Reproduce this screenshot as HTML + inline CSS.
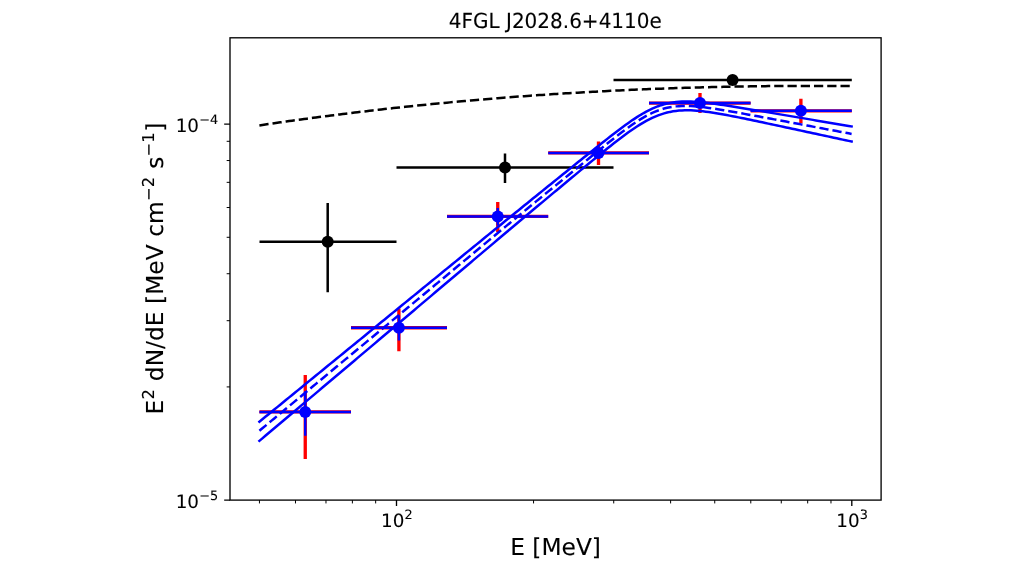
<!DOCTYPE html>
<html lang="en">
<head>
<meta charset="utf-8">
<title>4FGL J2028.6+4110e</title>
<style>
html,body{margin:0;padding:0;background:#ffffff;}
body{width:1024px;height:576px;overflow:hidden;}
svg{display:block;}
</style>
</head>
<body>
<svg width="1024" height="576" viewBox="0 0 1024 576">
<rect x="0" y="0" width="1024" height="576" fill="#ffffff"/>
<g>
<g fill="none" stroke-linecap="butt">
<polyline points="259.40,125.39 262.38,124.95 265.35,124.51 268.33,124.07 271.30,123.64 274.28,123.21 277.26,122.78 280.23,122.36 283.21,121.93 286.18,121.51 289.16,121.10 292.13,120.68 295.11,120.27 298.09,119.86 301.06,119.45 304.04,119.05 307.01,118.65 309.99,118.25 312.97,117.85 315.94,117.46 318.92,117.06 321.89,116.67 324.87,116.29 327.85,115.90 330.82,115.52 333.80,115.15 336.77,114.77 339.75,114.40 342.72,114.03 345.70,113.66 348.68,113.29 351.65,112.93 354.63,112.57 357.60,112.21 360.58,111.85 363.56,111.50 366.53,111.15 369.51,110.80 372.48,110.46 375.46,110.12 378.44,109.78 381.41,109.44 384.39,109.10 387.36,108.77 390.34,108.44 393.31,108.11 396.29,107.79 399.27,107.47 402.24,107.15 405.22,106.83 408.19,106.51 411.17,106.20 414.15,105.89 417.12,105.58 420.10,105.28 423.07,104.98 426.05,104.68 429.03,104.38 432.00,104.09 434.98,103.79 437.95,103.50 440.93,103.22 443.90,102.93 446.88,102.65 449.86,102.37 452.83,102.09 455.81,101.82 458.78,101.54 461.76,101.27 464.74,101.01 467.71,100.74 470.69,100.48 473.66,100.22 476.64,99.96 479.62,99.71 482.59,99.45 485.57,99.20 488.54,98.95 491.52,98.71 494.49,98.47 497.47,98.22 500.45,97.99 503.42,97.75 506.40,97.52 509.37,97.29 512.35,97.06 515.33,96.83 518.30,96.61 521.28,96.39 524.25,96.17 527.23,95.95 530.21,95.74 533.18,95.52 536.16,95.32 539.13,95.11 542.11,94.90 545.08,94.70 548.06,94.50 551.04,94.30 554.01,94.11 556.99,93.92 559.96,93.73 562.94,93.54 565.92,93.35 568.89,93.17 571.87,92.99 574.84,92.81 577.82,92.63 580.79,92.46 583.77,92.29 586.75,92.12 589.72,91.95 592.70,91.79 595.67,91.63 598.65,91.47 601.63,91.31 604.60,91.15 607.58,91.00 610.55,90.85 613.53,90.70 616.51,90.56 619.48,90.41 622.46,90.27 625.43,90.13 628.41,90.00 631.38,89.86 634.36,89.73 637.34,89.60 640.31,89.47 643.29,89.35 646.26,89.22 649.24,89.10 652.22,88.99 655.19,88.87 658.17,88.76 661.14,88.64 664.12,88.54 667.10,88.43 670.07,88.32 673.05,88.22 676.02,88.12 679.00,88.02 681.97,87.93 684.95,87.83 687.93,87.74 690.90,87.65 693.88,87.57 696.85,87.48 699.83,87.40 702.81,87.32 705.78,87.24 708.76,87.17 711.73,87.09 714.71,87.02 717.69,86.96 720.66,86.89 723.64,86.82 726.61,86.76 729.59,86.70 732.56,86.64 735.54,86.59 738.52,86.54 741.49,86.48 744.47,86.44 747.44,86.39 750.42,86.34 753.40,86.30 756.37,86.26 759.35,86.22 762.32,86.19 765.30,86.15 768.28,86.12 771.25,86.09 774.23,86.07 777.20,86.04 780.18,86.02 783.15,86.00 786.13,85.98 789.11,85.96 792.08,85.95 795.06,85.94 798.03,85.93 801.01,85.92 803.99,85.91 806.96,85.91 809.94,85.91 812.91,85.91 815.89,85.91 818.87,85.92 821.84,85.92 824.82,85.93 827.79,85.94 830.77,85.96 833.74,85.97 836.72,85.99 839.70,86.01 842.67,86.03 845.65,86.06 848.62,86.08 851.60,86.11" stroke="#000" stroke-width="2.5" stroke-dasharray="9.25 4"/>
<path d="M259.50 241.75H396.50M327.70 203.00V292.20" stroke="#000" stroke-width="2.5"/>
<path d="M396.50 167.45H613.50M505.00 153.50V182.90" stroke="#000" stroke-width="2.5"/>
<path d="M613.50 79.90H851.80M732.60 78.50V81.30" stroke="#000" stroke-width="2.5"/>
<circle cx="327.70" cy="241.75" r="6.0" fill="#000" stroke="none"/>
<circle cx="505.00" cy="167.45" r="6.0" fill="#000" stroke="none"/>
<circle cx="732.60" cy="79.90" r="6.0" fill="#000" stroke="none"/>
<path d="M259.40 411.90H351.00M305.25 375.00V459.10" stroke="#ff0000" stroke-width="3.33"/>
<path d="M351.00 327.75H447.00M398.90 308.50V351.25" stroke="#ff0000" stroke-width="3.33"/>
<path d="M447.00 216.45H548.20M497.75 201.90V232.00" stroke="#ff0000" stroke-width="3.33"/>
<path d="M548.20 152.90H649.00M598.50 141.40V165.10" stroke="#ff0000" stroke-width="3.33"/>
<path d="M649.00 103.10H750.60M700.00 93.10V113.10" stroke="#ff0000" stroke-width="3.33"/>
<path d="M750.60 110.85H851.80M800.90 98.75V123.20" stroke="#ff0000" stroke-width="3.33"/>
<path d="M259.40 411.90H351.00M305.25 391.25V435.70" stroke="#0000ff" stroke-width="2.5"/>
<path d="M351.00 327.75H447.00M398.90 315.60V340.40" stroke="#0000ff" stroke-width="2.5"/>
<path d="M447.00 216.45H548.20M497.75 208.10V225.60" stroke="#0000ff" stroke-width="2.5"/>
<path d="M548.20 152.90H649.00M598.50 148.00V158.00" stroke="#0000ff" stroke-width="2.5"/>
<path d="M649.00 103.10H750.60M700.00 99.50V107.00" stroke="#0000ff" stroke-width="2.5"/>
<path d="M750.60 110.85H851.80M800.90 106.50V115.00" stroke="#0000ff" stroke-width="2.5"/>
<circle cx="305.25" cy="411.90" r="6.0" fill="#0000ff" stroke="none"/>
<circle cx="398.90" cy="327.75" r="6.0" fill="#0000ff" stroke="none"/>
<circle cx="497.75" cy="216.45" r="6.0" fill="#0000ff" stroke="none"/>
<circle cx="598.50" cy="152.90" r="6.0" fill="#0000ff" stroke="none"/>
<circle cx="700.00" cy="103.10" r="6.0" fill="#0000ff" stroke="none"/>
<circle cx="800.90" cy="110.85" r="6.0" fill="#0000ff" stroke="none"/>
<polyline points="259.40,430.77 262.38,428.30 265.35,425.84 268.33,423.37 271.30,420.90 274.28,418.43 277.26,415.96 280.23,413.49 283.21,411.02 286.18,408.55 289.16,406.08 292.13,403.61 295.11,401.14 298.09,398.67 301.06,396.20 304.04,393.73 307.01,391.26 309.99,388.79 312.97,386.33 315.94,383.86 318.92,381.39 321.89,378.92 324.87,376.45 327.85,373.98 330.82,371.51 333.80,369.04 336.77,366.57 339.75,364.10 342.72,361.63 345.70,359.16 348.68,356.69 351.65,354.22 354.63,351.75 357.60,349.28 360.58,346.81 363.56,344.35 366.53,341.88 369.51,339.41 372.48,336.94 375.46,334.47 378.44,332.00 381.41,329.53 384.39,327.06 387.36,324.59 390.34,322.12 393.31,319.65 396.29,317.18 399.27,314.71 402.24,312.24 405.22,309.77 408.19,307.30 411.17,304.84 414.15,302.37 417.12,299.90 420.10,297.43 423.07,294.96 426.05,292.49 429.03,290.02 432.00,287.55 434.98,285.08 437.95,282.61 440.93,280.14 443.90,277.67 446.88,275.20 449.86,272.73 452.83,270.27 455.81,267.80 458.78,265.33 461.76,262.86 464.74,260.39 467.71,257.92 470.69,255.45 473.66,252.98 476.64,250.52 479.62,248.05 482.59,245.58 485.57,243.12 488.54,240.65 491.52,238.19 494.49,235.72 497.47,233.26 500.45,230.80 503.42,228.33 506.40,225.87 509.37,223.42 512.35,220.96 515.33,218.50 518.30,216.05 521.28,213.60 524.25,211.15 527.23,208.71 530.21,206.26 533.18,203.82 536.16,201.38 539.13,198.94 542.11,196.51 545.08,194.08 548.06,191.65 551.04,189.22 554.01,186.79 556.99,184.37 559.96,181.94 562.94,179.52 565.92,177.10 568.89,174.68 571.87,172.26 574.84,169.84 577.82,167.42 580.79,165.00 583.77,162.58 586.75,160.16 589.72,157.75 592.70,155.33 595.67,152.92 598.65,150.52 601.63,148.12 604.60,145.73 607.58,143.35 610.55,140.99 613.53,138.65 616.51,136.32 619.48,134.03 622.46,131.77 625.43,129.56 628.41,127.39 631.38,125.28 634.36,123.24 637.34,121.27 640.31,119.39 643.29,117.61 646.26,115.93 649.24,114.37 652.22,112.94 655.19,111.63 658.17,110.47 661.14,109.44 664.12,108.56 667.10,107.81 670.07,107.21 673.05,106.73 676.02,106.37 679.00,106.13 681.97,105.99 684.95,105.94 687.93,105.98 690.90,106.10 693.88,106.28 696.85,106.51 699.83,106.80 702.81,107.13 705.78,107.49 708.76,107.89 711.73,108.31 714.71,108.75 717.69,109.22 720.66,109.70 723.64,110.19 726.61,110.69 729.59,111.20 732.56,111.72 735.54,112.25 738.52,112.78 741.49,113.32 744.47,113.86 747.44,114.40 750.42,114.95 753.40,115.50 756.37,116.05 759.35,116.60 762.32,117.15 765.30,117.71 768.28,118.26 771.25,118.82 774.23,119.37 777.20,119.93 780.18,120.49 783.15,121.05 786.13,121.60 789.11,122.16 792.08,122.72 795.06,123.28 798.03,123.84 801.01,124.39 803.99,124.95 806.96,125.51 809.94,126.07 812.91,126.63 815.89,127.19 818.87,127.75 821.84,128.31 824.82,128.87 827.79,129.42 830.77,129.98 833.74,130.54 836.72,131.10 839.70,131.66 842.67,132.22 845.65,132.78 848.62,133.34 851.60,133.90" stroke="#0000ff" stroke-width="2.5" stroke-dasharray="9.25 4"/>
<polyline points="259.40,421.70 262.38,419.27 265.35,416.84 268.33,414.41 271.30,411.98 274.28,409.55 277.26,407.12 280.23,404.69 283.21,402.26 286.18,399.83 289.16,397.40 292.13,394.97 295.11,392.54 298.09,390.12 301.06,387.69 304.04,385.26 307.01,382.83 309.99,380.40 312.97,377.97 315.94,375.54 318.92,373.11 321.89,370.68 324.87,368.25 327.85,365.82 330.82,363.39 333.80,360.96 336.77,358.53 339.75,356.10 342.72,353.67 345.70,351.24 348.68,348.81 351.65,346.38 354.63,343.95 357.60,341.53 360.58,339.10 363.56,336.67 366.53,334.24 369.51,331.81 372.48,329.38 375.46,326.95 378.44,324.52 381.41,322.09 384.39,319.66 387.36,317.23 390.34,314.80 393.31,312.37 396.29,309.94 399.27,307.51 402.24,305.08 405.22,302.65 408.19,300.22 411.17,297.79 414.15,295.36 417.12,292.94 420.10,290.51 423.07,288.08 426.05,285.65 429.03,283.22 432.00,280.79 434.98,278.36 437.95,275.93 440.93,273.50 443.90,271.07 446.88,268.64 449.86,266.21 452.83,263.78 455.81,261.35 458.78,258.92 461.76,256.49 464.74,254.06 467.71,251.64 470.69,249.21 473.66,246.78 476.64,244.35 479.62,241.92 482.59,239.49 485.57,237.07 488.54,234.64 491.52,232.21 494.49,229.79 497.47,227.36 500.45,224.94 503.42,222.51 506.40,220.09 509.37,217.67 512.35,215.25 515.33,212.83 518.30,210.41 521.28,207.99 524.25,205.58 527.23,203.16 530.21,200.75 533.18,198.34 536.16,195.93 539.13,193.52 542.11,191.12 545.08,188.71 548.06,186.31 551.04,183.91 554.01,181.51 556.99,179.11 559.96,176.71 562.94,174.32 565.92,171.92 568.89,169.53 571.87,167.13 574.84,164.74 577.82,162.35 580.79,159.96 583.77,157.57 586.75,155.18 589.72,152.80 592.70,150.42 595.67,148.04 598.65,145.67 601.63,143.31 604.60,140.96 607.58,138.62 610.55,136.29 613.53,133.99 616.51,131.71 619.48,129.45 622.46,127.23 625.43,125.06 628.41,122.93 631.38,120.85 634.36,118.84 637.34,116.90 640.31,115.05 643.29,113.29 646.26,111.64 649.24,110.09 652.22,108.67 655.19,107.37 658.17,106.21 661.14,105.18 664.12,104.29 667.10,103.53 670.07,102.91 673.05,102.41 676.02,102.03 679.00,101.75 681.97,101.58 684.95,101.51 687.93,101.51 690.90,101.58 693.88,101.72 696.85,101.91 699.83,102.15 702.81,102.43 705.78,102.75 708.76,103.09 711.73,103.46 714.71,103.86 717.69,104.27 720.66,104.69 723.64,105.13 726.61,105.58 729.59,106.04 732.56,106.50 735.54,106.98 738.52,107.45 741.49,107.93 744.47,108.42 747.44,108.91 750.42,109.40 753.40,109.89 756.37,110.38 759.35,110.88 762.32,111.38 765.30,111.87 768.28,112.37 771.25,112.87 774.23,113.37 777.20,113.87 780.18,114.37 783.15,114.87 786.13,115.37 789.11,115.88 792.08,116.38 795.06,116.88 798.03,117.38 801.01,117.88 803.99,118.39 806.96,118.89 809.94,119.39 812.91,119.89 815.89,120.40 818.87,120.90 821.84,121.40 824.82,121.90 827.79,122.41 830.77,122.91 833.74,123.41 836.72,123.91 839.70,124.42 842.67,124.92 845.65,125.42 848.62,125.92 851.60,126.43" stroke="#0000ff" stroke-width="2.5" stroke-linecap="square" stroke-linejoin="round"/>
<polyline points="259.40,440.85 262.38,438.34 265.35,435.82 268.33,433.31 271.30,430.80 274.28,428.28 277.26,425.77 280.23,423.26 283.21,420.74 286.18,418.23 289.16,415.72 292.13,413.20 295.11,410.69 298.09,408.18 301.06,405.67 304.04,403.15 307.01,400.64 309.99,398.13 312.97,395.61 315.94,393.10 318.92,390.59 321.89,388.07 324.87,385.56 327.85,383.05 330.82,380.53 333.80,378.02 336.77,375.51 339.75,372.99 342.72,370.48 345.70,367.97 348.68,365.46 351.65,362.94 354.63,360.43 357.60,357.92 360.58,355.40 363.56,352.89 366.53,350.38 369.51,347.86 372.48,345.35 375.46,342.84 378.44,340.32 381.41,337.81 384.39,335.30 387.36,332.78 390.34,330.27 393.31,327.76 396.29,325.25 399.27,322.73 402.24,320.22 405.22,317.71 408.19,315.19 411.17,312.68 414.15,310.17 417.12,307.65 420.10,305.14 423.07,302.63 426.05,300.11 429.03,297.60 432.00,295.09 434.98,292.57 437.95,290.06 440.93,287.55 443.90,285.04 446.88,282.52 449.86,280.01 452.83,277.50 455.81,274.98 458.78,272.47 461.76,269.96 464.74,267.45 467.71,264.93 470.69,262.42 473.66,259.91 476.64,257.40 479.62,254.88 482.59,252.37 485.57,249.86 488.54,247.35 491.52,244.84 494.49,242.33 497.47,239.82 500.45,237.32 503.42,234.81 506.40,232.30 509.37,229.80 512.35,227.29 515.33,224.79 518.30,222.29 521.28,219.79 524.25,217.29 527.23,214.79 530.21,212.30 533.18,209.80 536.16,207.31 539.13,204.82 542.11,202.34 545.08,199.85 548.06,197.37 551.04,194.88 554.01,192.40 556.99,189.93 559.96,187.45 562.94,184.97 565.92,182.50 568.89,180.03 571.87,177.56 574.84,175.09 577.82,172.63 580.79,170.16 583.77,167.70 586.75,165.25 589.72,162.80 592.70,160.35 595.67,157.91 598.65,155.48 601.63,153.06 604.60,150.66 607.58,148.27 610.55,145.90 613.53,143.55 616.51,141.23 619.48,138.95 622.46,136.70 625.43,134.50 628.41,132.34 631.38,130.25 634.36,128.22 637.34,126.27 640.31,124.40 643.29,122.62 646.26,120.94 649.24,119.37 652.22,117.92 655.19,116.59 658.17,115.39 661.14,114.32 664.12,113.38 667.10,112.57 670.07,111.90 673.05,111.35 676.02,110.92 679.00,110.61 681.97,110.40 684.95,110.30 687.93,110.28 690.90,110.35 693.88,110.49 696.85,110.70 699.83,110.97 702.81,111.29 705.78,111.65 708.76,112.06 711.73,112.50 714.71,112.96 717.69,113.46 720.66,113.97 723.64,114.51 726.61,115.06 729.59,115.62 732.56,116.20 735.54,116.79 738.52,117.38 741.49,117.98 744.47,118.59 747.44,119.21 750.42,119.82 753.40,120.45 756.37,121.07 759.35,121.70 762.32,122.33 765.30,122.96 768.28,123.60 771.25,124.23 774.23,124.87 777.20,125.50 780.18,126.14 783.15,126.78 786.13,127.42 789.11,128.06 792.08,128.70 795.06,129.34 798.03,129.98 801.01,130.62 803.99,131.27 806.96,131.91 809.94,132.55 812.91,133.19 815.89,133.83 818.87,134.48 821.84,135.12 824.82,135.76 827.79,136.40 830.77,137.05 833.74,137.69 836.72,138.33 839.70,138.97 842.67,139.62 845.65,140.26 848.62,140.90 851.60,141.54" stroke="#0000ff" stroke-width="2.5" stroke-linecap="square" stroke-linejoin="round"/>
</g>
<path d="M396.50 500.10v5.83M851.80 500.10v5.83" stroke="#000" stroke-width="1.33" fill="none"/>
<path d="M259.44 500.10v3.33M295.49 500.10v3.33M325.97 500.10v3.33M352.38 500.10v3.33M375.67 500.10v3.33M533.56 500.10v3.33M613.73 500.10v3.33M670.62 500.10v3.33M714.74 500.10v3.33M750.79 500.10v3.33M781.27 500.10v3.33M807.68 500.10v3.33M830.97 500.10v3.33" stroke="#000" stroke-width="1" fill="none"/>
<path d="M230.00 500.10h-5.83M230.00 124.10h-5.83" stroke="#000" stroke-width="1.33" fill="none"/>
<path d="M230.00 386.91h-3.33M230.00 320.70h-3.33M230.00 273.73h-3.33M230.00 237.29h-3.33M230.00 207.52h-3.33M230.00 182.34h-3.33M230.00 160.54h-3.33M230.00 141.30h-3.33" stroke="#000" stroke-width="1" fill="none"/>
<rect x="230.00" y="37.80" width="651.10" height="462.30" fill="none" stroke="#000" stroke-width="1.33"/>
<g font-family="'DejaVu Sans','Liberation Sans',sans-serif" fill="#000" stroke="#000" stroke-width="0.10" style="font-kerning:none;text-rendering:geometricPrecision">
<text transform="translate(555.3,27.8) scale(1,1.035)" font-size="20" text-anchor="middle">4FGL J2028.6+4110e</text>
<text transform="translate(555.55,555.25) scale(1,1.000)" font-size="23.333" text-anchor="middle">E [MeV]</text>
<text transform="translate(381.00,526.60) scale(1,1.000)" font-size="18.333"><tspan x="0" y="0">10</tspan><tspan x="23.55" y="-7.15" font-size="12.833">2</tspan></text>
<text transform="translate(836.30,526.60) scale(1,1.000)" font-size="18.333"><tspan x="0" y="0">10</tspan><tspan x="23.55" y="-7.15" font-size="12.833">3</tspan></text>
<text transform="translate(175.70,131.60) scale(1,1.000)" font-size="18.333"><tspan x="0" y="0">10</tspan><tspan x="23.55" y="-7.15" font-size="12.833">−4</tspan></text>
<text transform="translate(175.70,507.60) scale(1,1.000)" font-size="18.333"><tspan x="0" y="0">10</tspan><tspan x="23.55" y="-7.15" font-size="12.833">−5</tspan></text>
<text transform="translate(162.70,414.60) rotate(-90) scale(1,1.000)" font-size="23.333" xml:space="preserve" style="white-space:pre"><tspan x="0.000" y="0.000" font-size="23.333">E</tspan><tspan x="14.989" y="-8.804" font-size="16.333">2</tspan><tspan x="26.029" y="0.000" font-size="23.333"> dN/dE</tspan><tspan x="103.264" y="0.000" font-size="23.333"> [MeV</tspan><tspan x="170.353" y="0.000" font-size="23.333"> cm</tspan><tspan x="213.625" y="-8.804" font-size="16.333">−2</tspan><tspan x="238.374" y="0.000" font-size="23.333"> s</tspan><tspan x="258.203" y="-8.804" font-size="16.333">−1</tspan><tspan x="282.952" y="0.000" font-size="23.333">]</tspan></text>
</g>
</g>
</svg>
</body>
</html>
